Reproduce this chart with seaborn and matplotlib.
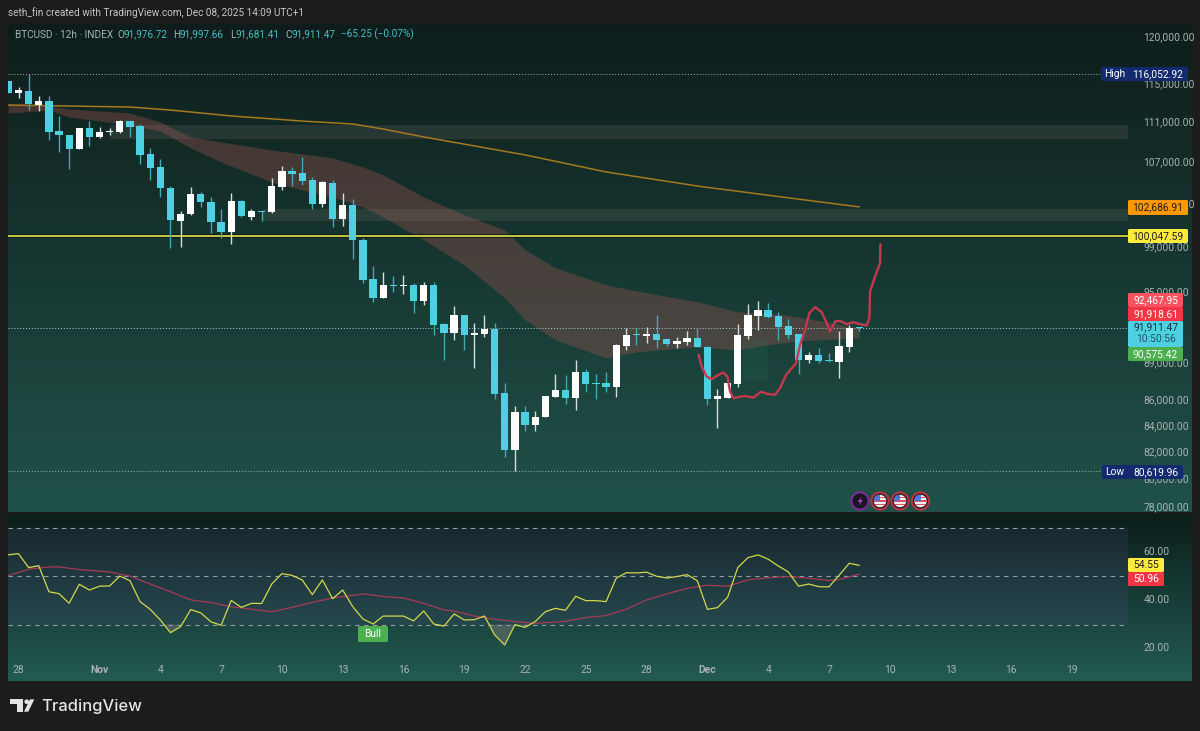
import numpy as np
import matplotlib
matplotlib.use("Agg")
import matplotlib.pyplot as plt
import seaborn as sns
from matplotlib.colors import LinearSegmentedColormap
from matplotlib.patches import Circle, FancyBboxPatch, Polygon, Rectangle
from matplotlib.ticker import NullLocator
from matplotlib.transforms import ScaledTranslation

# candles, 12h, first one is half hidden at the left edge
opens = [115340, 114015, 114290, 112830, 113180, 110140, 109770, 108310, 110440, 109540,
         110040, 110070, 111150, 110650, 107800, 106560, 104560, 101440, 102070, 103930,
         103200, 101350, 100400, 103290, 101820, 102350, 102230, 104660, 106180, 106010,
         105300, 103010, 105040, 101600, 102920, 99660, 96160, 94530, 95660, 95550,
         95610, 94220, 95610, 92250, 91490, 93010, 91350, 91460, 91880, 86600,
         82230, 85140, 84090, 84710, 86270, 86860, 86200, 88330, 87390, 87390,
         87070, 90430, 91410, 91290, 91460, 90990, 90620, 90790, 91100, 90350,
         86140, 86240, 87340, 91260, 92960, 93440, 92930, 92080, 91410, 89280,
         89690, 89250, 89140, 90370, 91976.72]
highs = [115340, 114645, 116052.92, 113735, 113735, 111670, 109770, 110490, 111150, 110570,
         110440, 111230, 111150, 110830, 108410, 107350, 104720, 102350, 104600, 104120,
         103640, 102540, 104030, 103350, 102510, 102350, 105470, 106660, 106600, 107510,
         105560, 105210, 105270, 104030, 103450, 99820, 97340, 96760, 96450, 96550,
         95840, 95930, 95930, 92340, 93780, 93010, 92390, 93070, 92390, 87420,
         85540, 85590, 85200, 86330, 88140, 88080, 89250, 88520, 88120, 88280,
         90600, 91960, 91940, 91990, 93070, 91040, 91160, 91660, 91940, 90410,
         86910, 87390, 92290, 93980, 94240, 94070, 93270, 92700, 91410, 89910,
         90270, 89830, 91710, 92190, 91997.66]
lows = [114080, 113555, 112283, 112180, 109236, 108070, 106370, 108310, 108640, 109470,
        109710, 109910, 109570, 106840, 105300, 103640, 98960, 99060, 101970, 102720,
        100340, 99870, 99330, 101800, 101510, 101440, 102160, 104340, 104720, 104820,
        102540, 102760, 100830, 100980, 97940, 95780, 94180, 94500, 95050, 94850,
        93190, 93880, 91350, 89280, 90930, 90080, 88630, 91210, 86120, 81680,
        80619.96, 83600, 83630, 84710, 86270, 85750, 85280, 86700, 86140, 86700,
        86320, 90100, 90510, 90710, 90270, 90460, 90290, 90510, 90320, 85650,
        83900, 86240, 87120, 91040, 91770, 92760, 90930, 91040, 88140, 89060,
        89010, 89120, 87790, 89960, 91681.41]
closes = [114080, 114361, 112870, 113180, 110070, 109740, 108310, 110440, 109570, 110040,
          110110, 111150, 110580, 107730, 106500, 104530, 101480, 102040, 103930, 103170,
          101320, 100400, 103290, 101850, 102350, 102280, 104720, 106180, 105910, 105230,
          103010, 105080, 101600, 102920, 99640, 96100, 94530, 95660, 95550, 95610,
          94240, 95610, 92190, 91490, 93010, 91350, 91520, 91880, 86540, 82230,
          85140, 84090, 84750, 86330, 86860, 86200, 88330, 87340, 87310, 87070,
          90510, 91380, 91330, 91460, 90910, 90620, 90850, 91100, 90320, 86110,
          86330, 87390, 91320, 93010, 93440, 92840, 92020, 91350, 89280, 89690,
          89200, 89200, 90430, 91940, 91911.47]

# 200 line and the ribbon, read at a few candles
ma_idx = [-1, 5, 11, 15, 21, 28, 33, 36, 40, 45, 50, 58, 67, 73, 83]
ma_vals = [112800, 112690, 112590, 112280, 111670, 111150, 110850, 110340, 109540, 108640,
           107750, 106080, 104720, 103960, 102730]
band_idx = [-1, 3, 5, 11, 14, 17, 20, 25, 28, 31, 34, 36, 40, 44, 48, 50, 53, 58, 61, 67, 71, 74, 77, 83]
band_upper = [112800, 112690, 112390, 111970, 111050, 109530, 109040, 108240, 107850, 107450,
              106560, 105790, 103670, 101980, 100580, 98760, 97140, 95640, 95110, 94160,
              93300, 93210, 92870, 91940]
band_lower = [111970, 112280, 111560, 110750, 110140, 108440, 107050, 105110, 104340, 103670,
              102730, 101790, 99660, 97410, 94500, 92620, 90930, 89440, 89940, 90350,
              90100, 90520, 90850, 91100]

# hand drawn red path
path_idx = [67.14, 67.44, 67.93, 68.43, 69.09, 69.58, 69.98, 70.24, 70.57, 71.23, 71.88, 72.54,
            73.27, 74.02, 74.68, 75.17, 75.77, 76.75, 77.15, 77.64, 78.07, 78.63, 79.29, 79.78,
            80.11, 80.6, 81.1, 81.76, 82.41, 83.07, 83.73, 83.99, 84.06, 84.55, 85.05, 85.08]
path_vals = [89690, 88730, 87920, 87710, 88060, 88250, 87920, 86720, 86190, 86320, 86350, 86240,
             86700, 86520, 86460, 86990, 88060, 89010, 90520, 91770, 93190, 93700, 93270, 92340,
             91630, 92470, 92530, 92250, 92420, 92250, 92130, 92760, 95050, 96370, 97570, 99270]

level_high = 116052.92
level_low = 80619.96
level_yellow = 100047.59
last_price = 91911.47
zone_a = (109340, 110750)
zone_b = (101420, 102540)
fvg = (87580, 91100)

price_ticks = [120000, 115000, 111000, 107000, 103000, 99000, 95000,
               89000, 86000, 84000, 82000, 80000, 78000]

# oscillator
rsi_vals = [58.9, 59.4, 53.6, 54.4, 43.6, 42.8, 38.8, 46.7, 44.3, 45.9,
            46.0, 50.1, 48.2, 39.5, 36.3, 31.9, 26.6, 29.1, 36.2, 34.8,
            31.1, 29.7, 40.0, 37.1, 38.8, 38.7, 46.8, 51.1, 50.4, 48.5,
            42.4, 48.5, 40.7, 44.3, 37.4, 32.3, 30.2, 33.5, 33.5, 33.5,
            31.5, 35.6, 30.2, 29.3, 34.4, 31.9, 32.0, 33.5, 25.7, 21.5,
            29.9, 28.8, 31.2, 35.3, 36.7, 35.9, 41.7, 39.9, 39.9, 39.5,
            49.2, 51.5, 51.4, 51.7, 50.0, 49.3, 49.9, 50.7, 48.2, 36.3,
            37.0, 41.3, 53.6, 57.7, 58.9, 57.1, 54.3, 51.8, 45.9, 46.8,
            45.7, 45.6, 50.4, 55.4, 54.55]
sma_idx = [-1, 1, 3, 4, 6, 9, 11, 13, 15, 17, 19, 21, 23, 25, 27, 29, 31, 33, 34, 36, 38, 40,
           42, 43, 45, 47, 49, 51, 54, 56, 58, 60, 62, 64, 66, 68, 70, 72, 74, 76, 78, 80, 81, 83]
sma_vals = [50.3, 52.9, 53.9, 53.9, 52.8, 51.8, 50.1, 46.8, 43.6, 40.2, 39.1, 37.4, 36.3, 35.3,
            37.1, 39.2, 41.0, 42.1, 42.7, 41.6, 41.0, 38.8, 36.0, 35.6, 33.5, 32.2, 31.2, 30.5,
            31.3, 32.9, 33.7, 36.3, 40.2, 42.7, 45.0, 46.3, 45.9, 48.5, 49.4, 49.9, 49.2, 48.3,
            48.6, 50.96]
rsi_levels = [70, 50, 30]
rsi_ticks = [60, 40, 20]

date_ticks = [0, 8, 14, 20, 26, 32, 38, 44, 50, 56, 62, 68, 74, 80, 86, 92, 98, 104]
date_labels = ["28", "Nov", "4", "7", "10", "13", "16", "19", "22", "25", "28", "Dec",
               "4", "7", "10", "13", "16", "19"]

UP = "#ffffff"
DOWN = "#4dd0e1"
GREY_TXT = "#a9b3b3"
W, H = 1200, 731
XMIN, XMAX = -1.0365, 115.84
SCALE_X = 109.5  # where the price scale column starts

sns.set_theme(style="dark")
plt.rcParams["font.family"] = ["Roboto", "DejaVu Sans"]

fig = plt.figure(figsize=(W / 100, H / 100), dpi=100, facecolor="#1c1c1c")


def pane(top, bottom, zorder=1):
    return fig.add_axes([8 / W, 1 - bottom / H, 1184 / W, (bottom - top) / H], zorder=zorder)


def gradient(top, bottom, c_top, c_bottom):
    bg = pane(top, bottom, zorder=0)
    cmap = LinearSegmentedColormap.from_list("bg", [c_top, c_bottom])
    bg.imshow(np.linspace(0, 1, 256).reshape(-1, 1), aspect="auto", cmap=cmap)
    bg.axis("off")


def lift_labels(axis_ax, px):
    # scale labels sit a little above their price in the original
    for t in axis_ax.get_yticklabels():
        t.set_transform(t.get_transform() + ScaledTranslation(0, px / 100, fig.dpi_scale_trans))


gradient(23, 512, "#0e1d1b", "#205249")
gradient(514, 681, "#0b1e1a", "#235b52")

# price pane
ax = pane(23, 512)
ax.set_facecolor("none")
ax.set_yscale("log")

ax.fill_between(band_idx, band_lower, band_upper, color="#a0524f", alpha=0.36, lw=0, zorder=1)
ax.fill_between([9, SCALE_X], *zone_a, color="#958a82", alpha=0.16, lw=0, zorder=1)
ax.fill_between([24, SCALE_X], *zone_b, color="#958a82", alpha=0.16, lw=0, zorder=1)
ax.fill_between([71.5, 74], *fvg, color="#2e7d5b", alpha=0.14, lw=0, zorder=1)

sns.lineplot(x=ma_idx, y=ma_vals, ax=ax, color="#a5791f", lw=1.1, estimator=None, zorder=2)

for lvl in (level_high, level_low):
    ax.hlines(lvl, XMIN, SCALE_X, color="#a7b5b3", lw=0.7, ls=(0, (1, 2)), zorder=2)
ax.hlines(last_price, XMIN, SCALE_X, color="#a9d5d8", lw=0.7, ls=(0, (1, 2)), zorder=2)
ax.hlines(level_yellow, XMIN, SCALE_X, color="#0b1a18", lw=2.6, zorder=2)
ax.hlines(level_yellow, XMIN, SCALE_X, color="#d6d548", lw=1.3, zorder=2.1)

xs = np.arange(len(opens)) - 1
o, h, l, c = map(np.array, (opens, highs, lows, closes))
colors = [UP if b >= a else DOWN for a, b in zip(o, c)]
wicks = ["#d5dcdc" if col == UP else "#3fa9b5" for col in colors]
ax.vlines(xs, l, h, colors=wicks, lw=1.0, zorder=3)
ax.bar(xs, np.maximum(np.abs(c - o), 40), bottom=np.minimum(o, c), width=0.72, color=colors, lw=0, zorder=4)

sns.lineplot(x=path_idx, y=path_vals, ax=ax, color="#c5384e", lw=1.7, sort=False, estimator=None,
             zorder=5, solid_joinstyle="round")

ax.set_xlim(XMIN, XMAX)
ax.set_ylim(77648, 121612)
ax.set_xticks([])
ax.yaxis.set_minor_locator(NullLocator())
ax.set_yticks(price_ticks, labels=[f"{t:,.2f}" for t in price_ticks])
ax.yaxis.set_minor_locator(NullLocator())
ax.tick_params(axis="y", left=False, right=False, labelleft=False, labelright=True,
               pad=-41, labelsize=7.4, labelcolor=GREY_TXT)
ax.set_xlabel("")
ax.set_ylabel("")
sns.despine(ax=ax, left=True, bottom=True)
lift_labels(ax, 1.2)

# oscillator pane
ar = pane(514, 681)
ar.set_facecolor("none")
ar.fill_between([XMIN, SCALE_X], 30, 70, color="#7e57c2", alpha=0.11, lw=0, zorder=1)
for lvl in rsi_levels:
    ar.hlines(lvl, XMIN, SCALE_X, color="#8f9fa3", lw=0.8, ls=(0, (4, 4)), zorder=2)
ar.fill_between(xs, rsi_vals, 30, where=np.array(rsi_vals) < 30, interpolate=True,
                color="#9a8f8f", alpha=0.35, lw=0, zorder=2)
sns.lineplot(x=sma_idx, y=sma_vals, ax=ar, color="#a83a55", lw=0.9, estimator=None, zorder=3)
sns.lineplot(x=xs, y=rsi_vals, ax=ar, color="#d3d84a", lw=0.9, estimator=None, zorder=4)
ar.set_xlim(XMIN, XMAX)
ar.set_ylim(6.56, 75.85)
ar.set_xticks(date_ticks, labels=date_labels)
ar.set_yticks(rsi_ticks, labels=[f"{t:.2f}" for t in rsi_ticks])
ar.tick_params(axis="y", left=False, right=False, labelleft=False, labelright=True,
               pad=-41, labelsize=7.4, labelcolor=GREY_TXT)
ar.tick_params(axis="x", bottom=False, pad=-17.5, labelsize=7.4, labelcolor=GREY_TXT)
for t in ar.get_xticklabels():
    if t.get_text() in ("Nov", "Dec"):
        t.set_weight("bold")
ar.set_xlabel("")
ar.set_ylabel("")
sns.despine(ax=ar, left=True, bottom=True)
lift_labels(ar, 1.2)

# pixel overlay for tags, header and logo
ov = fig.add_axes([0, 0, 1, 1], zorder=3)
ov.set_xlim(0, W)
ov.set_ylim(H, 0)
ov.axis("off")


def tag(x0, y0, x1, y1, fc, txt, tc, size=7.4, weight="normal", zorder=6):
    ov.add_patch(FancyBboxPatch((x0, y0), x1 - x0, y1 - y0, boxstyle="round,pad=0,rounding_size=1.5",
                                fc=fc, ec="none", zorder=zorder))
    if txt:
        ov.text((x0 + x1) / 2, (y0 + y1) / 2, txt, color=tc, fontsize=size, weight=weight,
                ha="center", va="center", zorder=zorder + 1)


NAVY = "#132a6e"
tag(1101, 67, 1128, 81, NAVY, "High", "#ffffff")
tag(1128, 67, 1188, 81, NAVY, "116,052.92", "#ffffff")
tag(1102, 465, 1128, 479, NAVY, "Low", "#ffffff")
tag(1128, 465, 1183, 479, NAVY, "80,619.96", "#ffffff")
tag(1128, 200, 1188, 215, "#ff9800", "102,686.91", "#1c1c1c")
tag(1128, 229, 1188, 243, "#ffeb3b", "100,047.59", "#1c1c1c")
tag(1128, 293, 1183, 307, "#f7525f", "92,467.95", "#ffffff")
tag(1128, 307, 1183, 321, "#f23645", "91,918.61", "#ffffff")
tag(1128, 321, 1183, 347, "#4dd0e1", "", "#000000")
ov.text(1155.5, 327.5, "91,911.47", color="#10343a", fontsize=7.4, ha="center", va="center", zorder=7)
ov.text(1155.5, 339.5, "10:50:56", color="#1b5660", fontsize=7.4, ha="center", va="center", zorder=7)
tag(1128, 347, 1183, 361, "#4caf50", "90,575.42", "#ffffff")
tag(1128, 558, 1164, 572, "#ffeb3b", "54.55", "#1c1c1c")
tag(1128, 572, 1164, 586, "#f23645", "50.96", "#ffffff")
tag(358, 626, 388, 642, "#4caf50", "Bull", "#ffffff")

# event icons
ov.add_patch(Circle((860, 501), 8.6, fc="#1a1420", ec="#7a2f98", lw=1.5, zorder=6))
ov.add_patch(Polygon([(862, 496), (857.5, 502), (860, 502), (858.5, 506), (863, 500), (860.5, 500)],
                     fc="#9c3fc2", ec="none", zorder=7))
for cx in (880, 900, 920.5):
    ov.add_patch(Circle((cx, 501), 8.6, fc="#2a1a20", ec="#b83445", lw=1.5, zorder=6))
    disc = Circle((cx, 501), 6.2, fc="#f2f2f5", ec="none", zorder=7)
    ov.add_patch(disc)
    for dy in (-3.5, 0, 3.5):
        r = Rectangle((cx - 6.5, 501 + dy - 0.9), 13, 1.8, fc="#e0525f", ec="none", zorder=7.1)
        ov.add_patch(r)
        r.set_clip_path(disc)
    b = Rectangle((cx - 6.5, 494.5), 6.5, 6, fc="#4a78d8", ec="none", zorder=7.2)
    ov.add_patch(b)
    b.set_clip_path(disc)

# header
ov.text(8, 12.5, "seth_fin created with TradingView.com, Dec 08, 2025 14:09 UTC+1",
        color="#c6c6c6", fontsize=7.2, va="center")
HEAD = "#a3b6b4"
TEAL = "#46bfc4"
ov.text(15, 34.5, "BTCUSD · 12h · INDEX", color=HEAD, fontsize=7.2, va="center")
for x_l, letter, x_v, val in [(117, "O", 124, "91,976.72"), (173, "H", 180, "91,997.66"),
                              (230, "L", 236, "91,681.41"), (285, "C", 292, "91,911.47")]:
    ov.text(x_l, 34.5, letter, color=HEAD, fontsize=7.2, va="center")
    ov.text(x_v, 34.5, val, color=TEAL, fontsize=7.2, va="center")
ov.text(341, 34.5, "−65.25 (−0.07%)", color=TEAL, fontsize=7.2, va="center")

# logo
LOGO = "#e3e3e3"
ov.add_patch(Polygon([(10, 699.3), (23, 699.3), (23, 711.7), (16.5, 711.7), (16.5, 704), (10, 704)], fc=LOGO, ec="none"))
ov.add_patch(Circle((26.7, 701.7), 2.3, fc=LOGO, ec="none"))
ov.add_patch(Polygon([(30, 699.3), (34.3, 699.3), (28.3, 711.7), (24, 711.7)], fc=LOGO, ec="none"))
ov.text(41, 706, "TradingView", color=LOGO, fontsize=11.9, family="Inter", weight="medium", va="center")

fig.savefig("out.png", dpi=100, facecolor=fig.get_facecolor())
plt.close(fig)
